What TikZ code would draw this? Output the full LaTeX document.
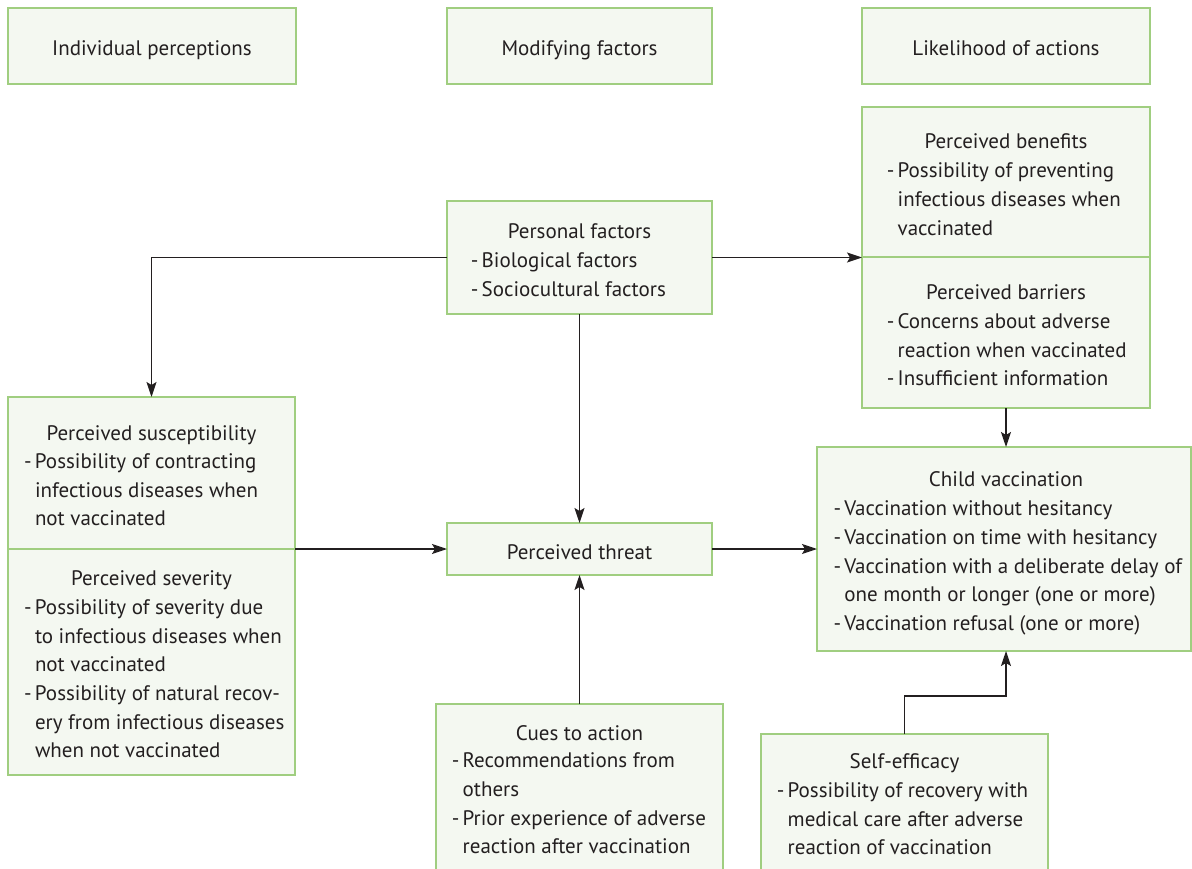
\documentclass[tikz,border=0pt]{standalone}
\usepackage{fontspec}
\setmainfont{PT Sans}
\usetikzlibrary{arrows.meta}
\definecolor{boxgreen}{RGB}{160,206,128}
\definecolor{boxfill}{RGB}{244,248,241}
\definecolor{ink}{RGB}{35,31,32}
\newcommand\dsh{\makebox[10.8pt][l]{-}}
\newcommand\blines[1]{\begin{tabular}[t]{@{}l@{}l@{}}#1\end{tabular}}
\begin{document}
\begin{tikzpicture}[x=1pt,y=-1pt,
  box/.style={draw=boxgreen,fill=boxfill,line width=1.4pt,inner sep=0pt,outer sep=0pt,anchor=north west},
  ttl/.style={anchor=base,inner sep=0pt,text=ink,font=\fontsize{21}{28.7}\selectfont},
  blk/.style={anchor=base west,inner sep=0pt,text=ink,font=\fontsize{21}{28.7}\selectfont},
  arr/.style={draw=ink,line width=1.3pt,-{Stealth[length=15pt,width=10pt,inset=3pt]}}]
\useasboundingbox (0,0) rectangle (1192,869);
% boxes
\node[box,minimum width=288pt,minimum height=76pt] (hIP) at (8,8) {};
\node[box,minimum width=265pt,minimum height=76pt] (hMF) at (447,8) {};
\node[box,minimum width=288pt,minimum height=76pt] (hLA) at (862,8) {};
\node[box,minimum width=265pt,minimum height=113pt] (pf) at (447,201) {};
\node[box,minimum width=288pt,minimum height=150pt] (ben) at (862,107) {};
\node[box,minimum width=288pt,minimum height=151pt] (bar) at (862,257) {};
\node[box,minimum width=287pt,minimum height=152pt] (sus) at (8,397) {};
\node[box,minimum width=287pt,minimum height=226pt] (sev) at (8,549) {};
\node[box,minimum width=265pt,minimum height=52pt] (thr) at (447,523) {};
\node[box,minimum width=287pt,minimum height=180pt] (cue) at (436,704) {};
\node[box,minimum width=374pt,minimum height=204pt] (chv) at (817,447) {};
\node[box,minimum width=287pt,minimum height=150pt] (sef) at (761,734) {};
% titles
\node[ttl] (tIP) at (152,56) {Individual perceptions};
\node[ttl] (tMF) at (579.5,56) {Modifying factors};
\node[ttl] (tLA) at (1006,56) {Likelihood of actions};
\node[ttl] (tpf) at (579.5,239) {Personal factors};
\node[ttl] (tben) at (1006,148.3) {Perceived benefits};
\node[ttl] (tbar) at (1006,299) {Perceived barriers};
\node[ttl] (tsus) at (151.5,440) {Perceived susceptibility};
\node[ttl] (tsev) at (151.5,585) {Perceived severity};
\node[ttl] (tthr) at (579.5,559) {Perceived threat};
\node[ttl] (tcue) at (579.5,740) {Cues to action};
\node[ttl] (tchv) at (1006,486.7) {Child vaccination};
\node[ttl] (tsef) at (904.5,768.3) {Self-efficacy};
% bullet lists
\node[blk] (lpf) at (470.7,267.7) {\blines{\dsh&Biological factors\\ \dsh&Sociocultural factors}};
\node[blk] (lben) at (886.7,177.7) {\blines{\dsh&Possibility of preventing\\ &infectious diseases when\\ &vaccinated}};
\node[blk] (lbar) at (886.7,328.3) {\blines{\dsh&Concerns about adverse\\ &reaction when vaccinated\\ \dsh&Insufficient information}};
\node[blk] (lsus) at (24,468.3) {\blines{\dsh&Possibility of contracting\\ &infectious diseases when\\ &not vaccinated}};
\node[blk] (lsev) at (24,614.3) {\blines{\dsh&Possibility of severity due\\ &to infectious diseases when\\ &not vaccinated\\ \dsh&Possibility of natural recov-\\ &ery from infectious diseases\\ &when not vaccinated}};
\node[blk] (lcue) at (451.7,767.7) {\blines{\dsh&Recommendations from\\ &others\\ \dsh&Prior experience of adverse\\ &reaction after vaccination}};
\node[blk] (lchv) at (833.3,515.7) {\blines{\dsh&Vaccination without hesitancy\\ \dsh&Vaccination on time with hesitancy\\ \dsh&Vaccination with a deliberate delay of\\ &one month or longer (one or more)\\ \dsh&Vaccination refusal (one or more)}};
\node[blk] (lsef) at (776.7,797.3) {\blines{\dsh&Possibility of recovery with\\ &medical care after adverse\\ &reaction of vaccination}};
% connectors
\draw[arr] (pf.west) -| (sus.north);
\draw[arr] (pf.east) -- (pf.east -| ben.south west);
\draw[arr] (pf.south) -- (thr.north);
\draw[arr] (sus.south east) -- (sus.south east -| thr.west);
\draw[arr] (cue.north) -- (thr.south);
\draw[arr] (thr.east) -- (thr.east -| chv.west);
\draw[arr] (bar.south) -- (bar.south |- chv.north);
\coordinate (sebend) at (1006,696);
\draw[arr] (sef.north) |- (sebend) -- (sebend |- chv.south);
\end{tikzpicture}
\end{document}
